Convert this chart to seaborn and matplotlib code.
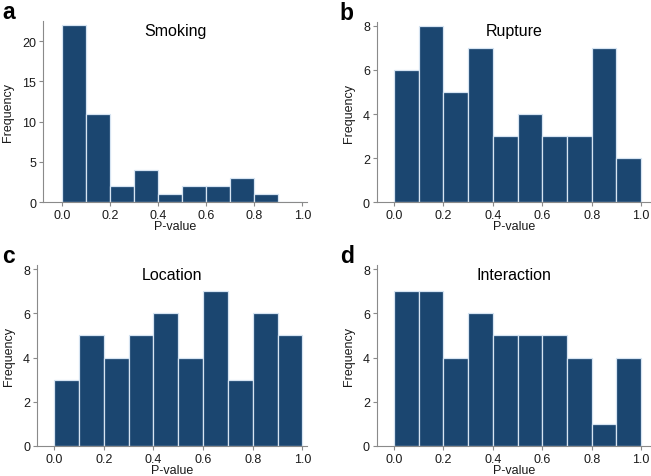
import numpy as np
import pandas as pd
import seaborn as sns
import matplotlib.pyplot as plt

sns.set_style("ticks")
plt.rcParams['font.family'] = ['Liberation Sans', 'DejaVu Sans']

# bin midpoints (P-value) and counts
bin_mids = [0.05, 0.15, 0.25, 0.35, 0.45, 0.55, 0.65, 0.75, 0.85, 0.95]

smoking = [22, 11, 2, 4, 1, 2, 2, 3, 1, 0]
rupture = [6, 8, 5, 7, 3, 4, 3, 3, 7, 2]
location = [3, 5, 4, 5, 6, 4, 7, 3, 6, 5]
interaction = [7, 7, 4, 6, 5, 5, 5, 4, 1, 4]

panels = [
    ("a", "Smoking", smoking, [0.066, 0.574, 0.406, 0.380], (-0.08, 1.02), 22.5, [0, 5, 10, 15, 20]),
    ("b", "Rupture", rupture, [0.579, 0.574, 0.421, 0.378], (-0.069, 1.04), 8.18, [0, 2, 4, 6, 8]),
    ("c", "Location", location, [0.057, 0.063, 0.415, 0.379], (-0.069, 1.02), 8.18, [0, 2, 4, 6, 8]),
    ("d", "Interaction", interaction, [0.579, 0.063, 0.421, 0.379], (-0.069, 1.04), 8.18, [0, 2, 4, 6, 8]),
]

bar_color = "#1b4670"
edge_color = "#d6e4f2"
axis_color = "#8a8a8a"

fig = plt.figure(figsize=(6.51, 4.77), dpi=100)

for letter, title, counts, pos, xlim, ytop, yticks in panels:
    ax = fig.add_axes(pos)
    df = pd.DataFrame({"p": bin_mids, "n": counts})
    sns.histplot(data=df, x="p", weights="n", bins=10, binrange=(0, 1), ax=ax,
                 color=bar_color, edgecolor=edge_color, linewidth=0.9, alpha=1)
    ax.set_xlim(*xlim)
    ax.set_ylim(0, ytop)
    ax.set_xticks([0, 0.2, 0.4, 0.6, 0.8, 1.0])
    ax.set_xticklabels(["0.0", "0.2", "0.4", "0.6", "0.8", "1.0"])
    ax.set_yticks(yticks)
    ax.set_xlabel("P-value", fontsize=9, labelpad=-1, color="#1a1a1a")
    ax.set_ylabel("Frequency", fontsize=9, labelpad=6, color="#1a1a1a")
    ax.tick_params(labelsize=9, colors=axis_color, labelcolor="#1a1a1a",
                   length=3, width=0.8, pad=2)
    sns.despine(ax=ax)
    for s in ["left", "bottom"]:
        ax.spines[s].set_color(axis_color)
        ax.spines[s].set_linewidth(0.8)
    ax.text(0.5, 0.95, title, transform=ax.transAxes, ha="center", va="center",
            fontsize=11.5, color="black")
    bb = ax.get_position()
    fig.text(0.004 if letter in "ac" else 0.522, bb.y1 + 0.02, letter,
             fontsize=16.5, fontweight="bold", ha="left", va="center", color="black")

fig.savefig("out.png", dpi=100)
